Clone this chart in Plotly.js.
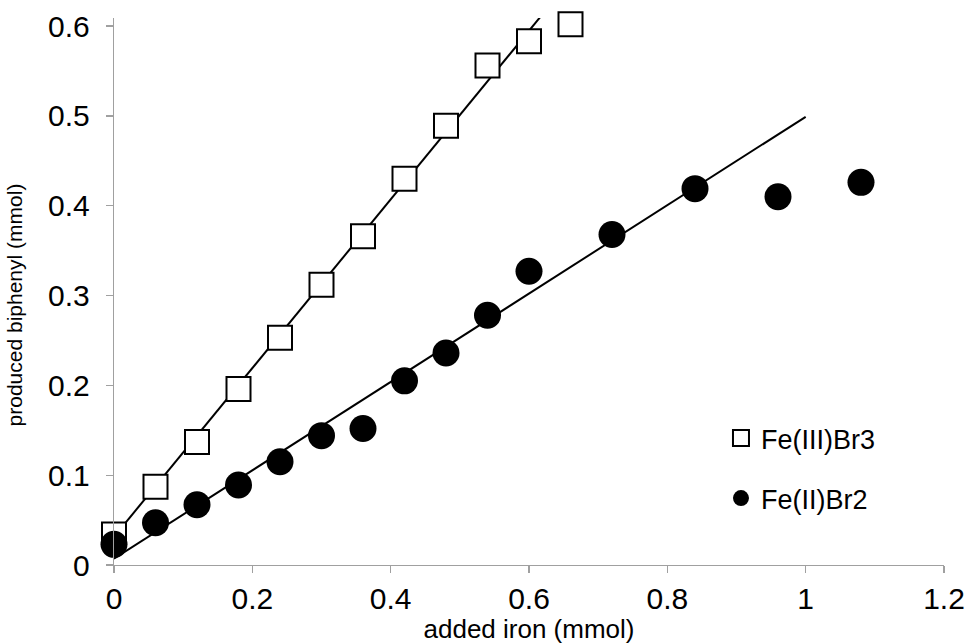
<!DOCTYPE html>
<html>
<head>
<meta charset="utf-8">
<script src="https://cdn.plot.ly/plotly-3.0.1.min.js"></script>
<style>
  html, body { margin: 0; padding: 0; background: #ffffff; }
  #chart { width: 967px; height: 644px; }
</style>
</head>
<body>
<div id="chart"></div>
<script>
// Amount of iron salt added (mmol) for each run
const ironFeBr3 = [0, 0.06, 0.12, 0.18, 0.24, 0.30, 0.36, 0.42, 0.48, 0.54, 0.60, 0.66];
const ironFeBr2 = [0, 0.06, 0.12, 0.18, 0.24, 0.30, 0.36, 0.42, 0.48, 0.54, 0.60, 0.72, 0.84, 0.96, 1.08];

// Biphenyl produced (mmol)
const biphenylFeBr3 = [0.034, 0.087, 0.137, 0.196, 0.253, 0.312, 0.366, 0.430, 0.489, 0.556, 0.583, 0.602];
const biphenylFeBr2 = [0.023, 0.047, 0.067, 0.089, 0.115, 0.144, 0.152, 0.205, 0.236, 0.278, 0.327, 0.368, 0.419, 0.410, 0.426];

// Linear trend lines (end points)
const fitFeBr3X = [0, 0.62];
const fitFeBr3Y = [0.0314, 0.6136];
const fitFeBr2X = [0, 1.0];
const fitFeBr2Y = [0.007, 0.499];

// Series names and axis labels
const seriesNames = ['Fe(III)Br3', 'Fe(II)Br2'];
const xLabel = 'added iron (mmol)';
const yLabel = 'produced biphenyl (mmol)';

const FONT = '"Liberation Sans", Arial, Helvetica, sans-serif';
const AXIS_GREY = '#a0a0a0';

const traces = [
  {
    x: fitFeBr3X, y: fitFeBr3Y, type: 'scatter', mode: 'lines',
    line: { color: '#000000', width: 2 },
    showlegend: false, hoverinfo: 'skip'
  },
  {
    x: fitFeBr2X, y: fitFeBr2Y, type: 'scatter', mode: 'lines',
    line: { color: '#000000', width: 2 },
    showlegend: false, hoverinfo: 'skip'
  },
  {
    name: seriesNames[0], legendgroup: 'g1',
    x: ironFeBr3, y: biphenylFeBr3, type: 'scatter', mode: 'markers',
    cliponaxis: false,
    marker: { symbol: 'square', size: 24, color: '#ffffff',
              line: { color: '#000000', width: 2 } }
  },
  {
    name: seriesNames[1], legendgroup: 'g2',
    x: ironFeBr2, y: biphenylFeBr2, type: 'scatter', mode: 'markers',
    cliponaxis: false,
    marker: { symbol: 'circle', size: 27, color: '#000000',
              line: { width: 0 } }
  }
];

const layout = {
  width: 967,
  height: 644,
  margin: { l: 114, r: 23, t: 18, b: 79 },
  paper_bgcolor: '#ffffff',
  plot_bgcolor: '#ffffff',
  font: { family: FONT, color: '#000000' },
  showlegend: true,
  legend: {
    x: 0.7313, xanchor: 'left',
    y: 0.2761, yanchor: 'top',
    font: { family: FONT, size: 27, color: '#000000' },
    tracegroupgap: 22,
    bgcolor: 'rgba(0,0,0,0)',
    borderwidth: 0,
    itemsizing: 'trace'
  },
  xaxis: {
    range: [0, 1.2],
    tick0: 0, dtick: 0.2,
    showgrid: false, zeroline: false,
    showline: true, linecolor: AXIS_GREY, linewidth: 1.3,
    ticks: 'outside', ticklen: 7, tickwidth: 1.3, tickcolor: AXIS_GREY,
    ticklabelstandoff: 0,
    tickfont: { family: FONT, size: 30, color: '#000000' },
    title: { text: xLabel, font: { family: FONT, size: 26, color: '#000000' }, standoff: 2 }
  },
  yaxis: {
    range: [0, 0.609],
    tick0: 0, dtick: 0.1,
    showgrid: false, zeroline: false,
    showline: true, linecolor: AXIS_GREY, linewidth: 1.3,
    ticks: 'outside', ticklen: 7, tickwidth: 1.3, tickcolor: AXIS_GREY,
    ticklabelstandoff: 10,
    tickfont: { family: FONT, size: 30, color: '#000000' }
  },
  annotations: [
    {
      text: yLabel, xref: 'paper', yref: 'paper',
      x: -0.12, y: 0.4753, xanchor: 'center', yanchor: 'middle',
      textangle: -90, showarrow: false,
      font: { family: FONT, size: 21, color: '#000000' }
    }
  ]
};

Plotly.newPlot('chart', traces, layout, { displayModeBar: false, staticPlot: true });
</script>
</body>
</html>
